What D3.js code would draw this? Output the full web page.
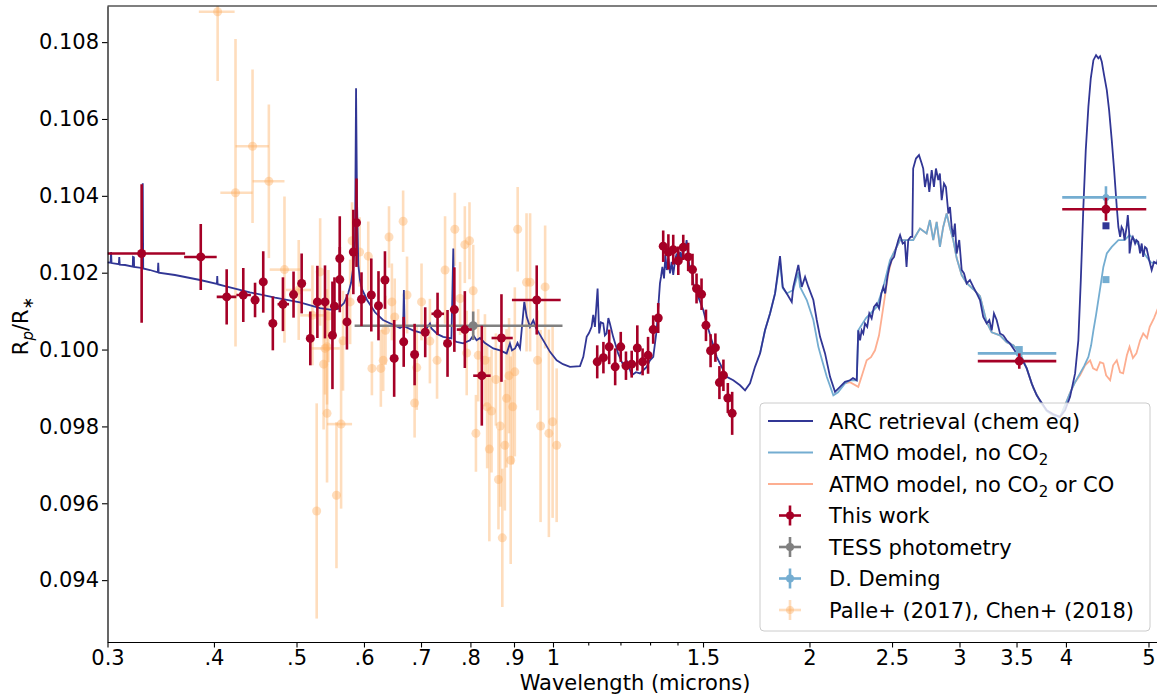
<!DOCTYPE html>
<html>
<head>
<meta charset="utf-8">
<script src="https://cdn.jsdelivr.net/npm/d3@7"></script>
<style>
body { margin: 0; background: #fff; }
text { font-family: "DejaVu Sans", sans-serif; }
</style>
</head>
<body>
<script>
// Transmission spectrum, Rp/R* against wavelength (microns), log x axis

// model spectra as [wavelength, Rp/R*]
var arcRetrieval = [
  [0.300,0.10227],[0.3025,0.10226],[0.3029,0.10254],[0.3033,0.10225],
  [0.3093,0.10222],[0.3097,0.10241],[0.3101,0.10221],
  [0.3146,0.10220],[0.3212,0.10216],[0.3214,0.10241],[0.3222,0.10240],[0.3224,0.10215],
  [0.3296,0.10212],[0.3300,0.10433],[0.3304,0.10211],
  [0.3365,0.10207],[0.3437,0.10201],[0.3441,0.10226],[0.3445,0.10200],
  [0.3600,0.10194],[0.3853,0.10181],[0.4032,0.10171],[0.4036,0.10191],[0.4040,0.10170],
  [0.4121,0.10165],[0.4408,0.10149],[0.4718,0.10135],[0.5046,0.10123],[0.5328,0.10108],
  [0.5474,0.10104],[0.5594,0.10106],[0.5685,0.10121],[0.5751,0.10147],[0.5794,0.10173],
  [0.5830,0.10215],[0.5857,0.10285],[0.5873,0.10680],[0.5888,0.10389],[0.5909,0.10220],
  [0.5936,0.10181],[0.5968,0.10157],[0.6050,0.10129],[0.6182,0.10097],[0.6317,0.10077],
  [0.6472,0.10066],[0.6613,0.10056],[0.6670,0.10061],[0.6683,0.10155],[0.6696,0.10060],
  [0.6850,0.10050],[0.7040,0.10042],[0.7171,0.10068],[0.7201,0.10055],[0.7320,0.10040],
  [0.7432,0.10033],[0.7600,0.10029],[0.7638,0.10263],[0.7665,0.10022],[0.7707,0.10020],
  [0.7845,0.10016],[0.7991,0.10024],[0.8064,0.10037],[0.8134,0.10024],[0.8210,0.10030],
  [0.8321,0.10017],[0.8509,0.10003],[0.8666,0.09998],[0.8823,0.09990],[0.8902,0.10016],
  [0.8951,0.09998],[0.9026,0.10003],[0.9086,0.10017],[0.9147,0.10003],[0.9254,0.10124],
  [0.9314,0.10085],[0.9397,0.10059],[0.9482,0.10076],[0.9551,0.10056],[0.9611,0.10046],
  [0.9741,0.10024],[0.9919,0.09994],[1.0100,0.09972],[1.0274,0.09962],[1.0470,0.09955],
  [1.0757,0.09957],[1.0854,0.09981],[1.0953,0.10033],[1.1022,0.10043],[1.1101,0.10059],
  [1.1149,0.10090],[1.1200,0.10059],[1.1281,0.10159],[1.1330,0.10042],[1.1381,0.10071],
  [1.1455,0.10068],[1.1506,0.10037],[1.1560,0.10042],[1.1614,0.10082],[1.1662,0.10068],
  [1.1766,0.10033],[1.1926,0.09990],[1.2047,0.09967],[1.2145,0.09951],[1.2229,0.09967],
  [1.2372,0.09933],[1.2514,0.09941],[1.2651,0.09938],[1.2882,0.09955],[1.2996,0.09972],
  [1.3113,0.09981],[1.3233,0.10050],[1.3352,0.10172],[1.339,0.10189],[1.344,0.10215],
  [1.350,0.10185],[1.355,0.10246],[1.360,0.10207],[1.366,0.10237],[1.372,0.10198],
  [1.378,0.10228],[1.384,0.10194],[1.391,0.10233],[1.397,0.10250],[1.403,0.10215],
  [1.410,0.10254],[1.416,0.10233],[1.422,0.10276],[1.429,0.10259],[1.435,0.10285],
  [1.441,0.10241],[1.448,0.10207],[1.455,0.10220],[1.461,0.10172],
  [1.4808,0.10137],[1.5010,0.10103],
  [1.5149,0.10068],[1.5356,0.10024],[1.5564,0.09981],[1.5776,0.09955],[1.5992,0.09929],
  [1.6279,0.09920],[1.6578,0.09907],[1.6805,0.09894],[1.7032,0.09912],[1.7264,0.09955],
  [1.7500,0.09990],[1.7736,0.10050],[1.7978,0.10094],[1.8224,0.10146],[1.8470,0.10243],
  [1.8606,0.10163],[1.8809,0.10146],[1.9066,0.10124],[1.9146,0.10163],[1.9408,0.10220],
  [1.9587,0.10163],[1.9764,0.10189],[1.9942,0.10163],[2.0211,0.10129],[2.0398,0.10077],
  [2.0582,0.10033],[2.0860,0.09990],[2.1145,0.09929],[2.1429,0.09890],[2.1723,0.09903],
  [2.2014,0.09916],[2.2316,0.09920],[2.2497,0.09926],[2.2726,0.09920],[2.2820,0.10050],
  [2.2930,0.10024],[2.3030,0.10050],[2.3130,0.10042],[2.3240,0.10068],[2.3380,0.10059],
  [2.3510,0.10094],[2.3660,0.10081],[2.3810,0.10111],[2.3990,0.10120],[2.4140,0.10107],
  [2.4290,0.10146],[2.4420,0.10163],[2.4540,0.10146],[2.4690,0.10189],[2.4820,0.10215],
  [2.4980,0.10233],[2.5140,0.10241],[2.5270,0.10263],[2.5430,0.10285],[2.5550,0.10298],
  [2.5730,0.10276],[2.5880,0.10280],[2.6000,0.10215],[2.6120,0.10285],[2.6290,0.10293],
  [2.6410,0.10293],[2.6470,0.10471],[2.6670,0.10497],[2.6890,0.10506],[2.7090,0.10484],
  [2.7200,0.10471],[2.7330,0.10423],[2.7500,0.10458],[2.7650,0.10410],[2.7830,0.10467],
  [2.8000,0.10423],[2.8150,0.10471],[2.8330,0.10441],[2.8450,0.10458],[2.8590,0.10389],
  [2.8770,0.10432],[2.8920,0.10423],[2.9110,0.10354],[2.9240,0.10371],[2.9370,0.10319],
  [2.9500,0.10293],[2.9630,0.10328],[2.9770,0.10250],[2.9980,0.10285],[3.0180,0.10207],
  [3.0370,0.10198],[3.0590,0.10172],[3.0860,0.10181],[3.1140,0.10163],[3.1430,0.10146],
  [3.1710,0.10129],[3.1990,0.10085],[3.2290,0.10068],[3.2520,0.10077],[3.2730,0.10050],
  [3.2930,0.10094],[3.3170,0.10077],[3.3470,0.10042],[3.3770,0.10037],[3.4080,0.10024],
  [3.4380,0.10016],[3.4700,0.10003],[3.5020,0.09990],[3.5330,0.09981],[3.5650,0.09968],
  [3.5980,0.09951],[3.6460,0.09912],[3.6960,0.09881],[3.7292,0.09868],[3.7977,0.09842],
  [3.8632,0.09832],[3.9368,0.09825],[3.9900,0.09842],[4.0449,0.09877],[4.1002,0.09938],
  [4.1364,0.10024],[4.1641,0.10181],[4.1930,0.10371],[4.2201,0.10519],[4.2503,0.10632],
  [4.2778,0.10706],[4.3084,0.10753],[4.3393,0.10766],[4.3664,0.10758],[4.3865,0.10763],
  [4.4068,0.10749],[4.4344,0.10714],[4.4671,0.10675],[4.4950,0.10623],[4.5273,0.10545],
  [4.5565,0.10467],[4.5890,0.10371],[4.6090,0.10319],[4.6310,0.10293],[4.6490,0.10319],
  [4.6690,0.10311],[4.6870,0.10285],[4.7130,0.10319],[4.7280,0.10350],[4.7460,0.10302],
  [4.7500,0.10250],[4.7760,0.10285],[4.7930,0.10293],[4.8220,0.10276],[4.8390,0.10285],
  [4.8640,0.10280],[4.8880,0.10250],[4.9090,0.10276],[4.9290,0.10241],[4.9530,0.10267],
  [4.9750,0.10263],[5.0090,0.10233],[5.0430,0.10207],[5.0750,0.10228],[5.1130,0.10224],
  [5.1300,0.10238]
];

var atmoNoCO2 = [
  [1.7500,0.09990],[1.7736,0.10050],[1.7978,0.10094],[1.8224,0.10146],[1.8470,0.10228],
  [1.8606,0.10160],[1.8809,0.10146],[1.9146,0.10155],[1.9408,0.10201],[1.9498,0.10163],
  [1.9855,0.10129],[2.0211,0.10077],[2.0487,0.10007],[2.0693,0.09972],[2.0958,0.09929],
  [2.1333,0.09881],[2.1605,0.09889],[2.2014,0.09912],[2.2316,0.09920],[2.2726,0.09920],
  [2.2820,0.10050],[2.3303,0.10082],[2.3986,0.10111],[2.4420,0.10163],[2.4865,0.10233],
  [2.5320,0.10267],[2.5549,0.10285],[2.6003,0.10285],[2.6474,0.10285],[2.6960,0.10315],
  [2.7449,0.10302],[2.7697,0.10337],[2.7947,0.10285],[2.8206,0.10332],[2.8454,0.10267],
  [2.8710,0.10319],[2.8977,0.10354],[2.9238,0.10316],[2.9498,0.10285],[2.9771,0.10238],
  [3.0178,0.10194],[3.0590,0.10173],[3.1140,0.10157],[3.1712,0.10139],[3.2285,0.10071],
  [3.2727,0.10045],[3.3467,0.10037],[3.4082,0.10019],[3.4700,0.10011],[3.5330,0.09991],
  [3.5975,0.09951],[3.6621,0.09900],[3.7292,0.09866],[3.7977,0.09840],[3.8632,0.09829],
  [3.9368,0.09824],[3.9900,0.09855],[4.0449,0.09887],[4.1002,0.09915],[4.1556,0.09938],
  [4.2009,0.09957],[4.2503,0.09981],[4.2817,0.10011],[4.3084,0.10050],[4.3393,0.10090],
  [4.3664,0.10129],[4.3982,0.10175],[4.4257,0.10215],[4.4671,0.10250],[4.5273,0.10267],
  [4.6092,0.10285],[4.6871,0.10285],[4.7502,0.10298],[4.8222,0.10285],[4.8881,0.10267],
  [4.9753,0.10241],[5.0304,0.10227],[5.1300,0.10224]
];

var atmoNoCO2CO = [
  [2.2014,0.09912],[2.2316,0.09915],[2.2820,0.09903],[2.3052,0.09933],[2.3345,0.09972],
  [2.3619,0.09980],[2.3876,0.09998],[2.4137,0.10037],[2.4420,0.10111],[2.4752,0.10198],
  [2.5086,0.10250],[2.5549,0.10285],[2.6003,0.10285],[2.6474,0.10285],[2.6960,0.10315],
  [2.7449,0.10302],[2.7697,0.10337],[2.7947,0.10285],[2.8206,0.10332],[2.8454,0.10267],
  [2.8710,0.10319],[2.8977,0.10354],[2.9238,0.10316],[2.9498,0.10285],[2.9771,0.10238],
  [3.0178,0.10194],[3.0590,0.10173],[3.1140,0.10157],[3.1712,0.10139],[3.2285,0.10071],
  [3.2727,0.10045],[3.3467,0.10037],[3.4082,0.10019],[3.4700,0.10011],[3.5330,0.09991],
  [3.5975,0.09951],[3.6621,0.09900],[3.7292,0.09866],[3.7977,0.09840],[3.8632,0.09829],
  [3.9368,0.09824],[3.9900,0.09855],[4.0449,0.09887],[4.1002,0.09915],[4.1556,0.09933],
  [4.2124,0.09959],[4.2700,0.09972],[4.3045,0.09951],[4.3474,0.09946],[4.3865,0.09967],
  [4.4257,0.09964],[4.4589,0.09933],[4.5075,0.09920],[4.5440,0.09959],[4.5891,0.09972],
  [4.6305,0.09941],[4.6689,0.09938],[4.7160,0.09985],[4.7502,0.10007],[4.7942,0.09978],
  [4.8390,0.09990],[4.8881,0.10024],[4.9295,0.10042],[4.9800,0.10030],[5.0164,0.10059],
  [5.0750,0.10082],[5.1300,0.10108]
];

// measurements as [wavelength, Rp/R*, error, bin start, bin end]
var thisWork = [
  [0.329,0.10250,0.00180,0.300,0.370],[0.386,0.10241,0.00086,0.369,0.403],
  [0.414,0.10137,0.00072,0.403,0.425],[0.433,0.10142,0.00070,0.425,0.442],
  [0.447,0.10129,0.00045,0.442,0.452],[0.457,0.10176,0.00080],[0.469,0.10068,0.00070],
  [0.482,0.10118,0.00070,0.475,0.490],[0.496,0.10143,0.00060],[0.507,0.10172,0.00078],
  [0.519,0.10029,0.00070],[0.529,0.10124,0.00094],[0.540,0.10124,0.00095],
  [0.551,0.10037,0.00140],[0.554,0.10113,0.00075],[0.562,0.10237,0.00110],
  [0.562,0.10182,0.00085],[0.573,0.10072,0.00072],[0.583,0.10254,0.00110],
  [0.588,0.10330,0.00115],[0.596,0.10131,0.00070],[0.612,0.10142,0.00095],
  [0.624,0.10114,0.00090],[0.635,0.10181,0.00075],[0.651,0.09977,0.00100],
  [0.668,0.10020,0.00065],[0.688,0.09987,0.00080],[0.708,0.10045,0.00065,0.702,0.714],
  [0.732,0.10093,0.00055,0.720,0.745],[0.752,0.10016,0.00087],[0.766,0.10104,0.00110],
  [0.788,0.10052,0.00100,0.771,0.803],[0.825,0.09932,0.00130,0.806,0.845],
  [0.870,0.10030,0.00114,0.847,0.897],[0.957,0.10129,0.00090,0.895,1.021],
  [1.127,0.09968,0.00043],[1.146,0.09979,0.00041],[1.164,0.10007,0.00045],
  [1.183,0.09955,0.00048],[1.201,0.10007,0.00039],[1.218,0.09958,0.00037],
  [1.237,0.09962,0.00035],[1.256,0.10004,0.00059],[1.274,0.09968,0.00035],
  [1.293,0.09985,0.00048],[1.311,0.10052,0.00037],[1.329,0.10082,0.00039],
  [1.347,0.10269,0.00041],[1.366,0.10254,0.00046],[1.384,0.10260,0.00039],
  [1.403,0.10231,0.00037],[1.422,0.10266,0.00033],[1.441,0.10241,0.00037],
  [1.458,0.10208,0.00041],[1.474,0.10159,0.00039],[1.494,0.10144,0.00041],
  [1.512,0.10063,0.00041],[1.531,0.09997,0.00043],[1.551,0.10005,0.00037],
  [1.568,0.09914,0.00043],[1.585,0.09933,0.00041],[1.604,0.09874,0.00039],
  [1.623,0.09834,0.00056],
  [3.526,0.09970,0.00020,3.152,3.897],[4.457,0.10365,0.00030,3.960,4.970]
];

var tessPhot = [[0.806,0.10062,0.00037,0.585,1.026]];

var demingSpitzer = [[3.526,0.09990,0.00006,3.152,3.897],[4.457,0.10396,0.00029,3.960,4.970]];

var palleChen = [
  [0.404,0.10879,0.0018,0.384,0.423],[0.424,0.10408,0.0040,0.407,0.444],
  [0.444,0.10529,0.0020,0.424,0.464],[0.464,0.10438,0.0020,0.444,0.484],
  [0.484,0.10208,0.0019,0.465,0.505],[0.503,0.10155,0.0013,0.486,0.520],
  [0.522,0.10089,0.0013,0.505,0.540],[0.540,0.10003,0.0012,0.521,0.562],
  [0.528,0.09580,0.0028],[0.533,0.10202,0.0014],[0.538,0.09962,0.0017],
  [0.543,0.10007,0.0015],[0.543,0.09834,0.0018],[0.545,0.10087,0.0012],
  [0.557,0.09621,0.0019],[0.564,0.09806,0.0022,0.543,0.581],[0.567,0.10023,0.0013],
  [0.578,0.10124,0.0011],[0.581,0.10283,0.0010],[0.593,0.10254,0.0009],
  [0.607,0.10243,0.0009],[0.613,0.09951,0.0007],[0.628,0.09951,0.0010],
  [0.632,0.09972,0.0008],[0.636,0.10050,0.0009],[0.642,0.10293,0.0008],
  [0.647,0.10124,0.0010],[0.652,0.10085,0.0010],[0.667,0.10334,0.0008],
  [0.674,0.10142,0.0010],[0.688,0.09861,0.0009],[0.692,0.09953,0.0011],
  [0.701,0.10124,0.0010],[0.717,0.10022,0.0011],[0.731,0.09972,0.0010],
  [0.747,0.10207,0.0014],[0.767,0.10313,0.00095],[0.778,0.10133,0.00095],
  [0.788,0.10273,0.0010],[0.792,0.09991,0.0011],[0.798,0.10283,0.0010],
  [0.806,0.10153,0.0012],[0.812,0.09782,0.0010],[0.817,0.09985,0.0012],
  [0.832,0.09972,0.0012],[0.837,0.09851,0.0016],[0.842,0.09741,0.0024],
  [0.847,0.09840,0.0016],[0.857,0.09922,0.0012],[0.863,0.09662,0.0013],
  [0.867,0.09801,0.0021],[0.872,0.09510,0.0018],[0.878,0.09751,0.0017],
  [0.882,0.09873,0.0018],[0.888,0.09932,0.0015],[0.892,0.09712,0.0027],
  [0.897,0.09851,0.0015],[0.902,0.09942,0.0022],[0.909,0.10313,0.0011],
  [0.931,0.10175,0.0018],[0.940,0.10175,0.0018],[0.959,0.09972,0.0013],
  [0.967,0.09801,0.0025],[0.979,0.10163,0.0016],[0.989,0.09782,0.0027],
  [0.999,0.09812,0.0025],[1.010,0.09751,0.0020]
];

// band averaged models at the Spitzer points
var arcBand = [[4.457,0.10322]];
var atmoBand = [[3.526,0.10000],[4.457,0.10182]];

var xTicks = [0.3,0.4,0.5,0.6,0.7,0.8,0.9,1,1.5,2,2.5,3,3.5,4,5];
var xTickLabels = ["0.3",".4",".5",".6",".7",".8",".9","1","1.5","2","2.5","3","3.5","4","5"];
var xMinorTicks = [1.1,1.2,1.3,1.4];
var yTicks = [0.094,0.096,0.098,0.100,0.102,0.104,0.106,0.108];

var width = 1157;
var height = 695;
var plotLeft = 107.5, plotRight = 1158, plotTop = 6, plotBottom = 642;

var x = d3.scaleLog()
          .domain([0.3, 5.13])
          .range([plotLeft, plotRight]);

var y = d3.scaleLinear()
          .domain([0.09239, 0.10894])
          .range([plotBottom, plotTop]);

var svg = d3.select("body")
            .append("svg")
            .attr("width", width)
            .attr("height", height);

svg.append("clipPath")
   .attr("id", "plotclip")
   .append("rect")
   .attr("x", plotLeft).attr("y", plotTop)
   .attr("width", plotRight - plotLeft).attr("height", plotBottom - plotTop);

var plot = svg.append("g").attr("clip-path", "url(#plotclip)");

// errorbar points: vertical bar, optional bin bar, then the marker
function errorbars(rows, color, alpha, lw, r) {
  var g = plot.append("g");
  g.selectAll(".ybar")
    .data(rows)
    .enter().append("line")
      .attr("x1", function(d) { return x(d[0]); })
      .attr("x2", function(d) { return x(d[0]); })
      .attr("y1", function(d) { return y(d[1] - d[2]); })
      .attr("y2", function(d) { return y(d[1] + d[2]); })
      .attr("stroke", color).attr("stroke-opacity", alpha).attr("stroke-width", lw);
  g.selectAll(".xbar")
    .data(rows.filter(function(d) { return d.length > 3; }))
    .enter().append("line")
      .attr("x1", function(d) { return x(d[3]); })
      .attr("x2", function(d) { return x(d[4]); })
      .attr("y1", function(d) { return y(d[1]); })
      .attr("y2", function(d) { return y(d[1]); })
      .attr("stroke", color).attr("stroke-opacity", alpha).attr("stroke-width", lw);
  g.selectAll("circle")
    .data(rows)
    .enter().append("circle")
      .attr("cx", function(d) { return x(d[0]); })
      .attr("cy", function(d) { return y(d[1]); })
      .attr("r", r)
      .attr("fill", color).attr("fill-opacity", alpha);
}

var line = d3.line()
             .x(function(d) { return x(d[0]); })
             .y(function(d) { return y(d[1]); });

errorbars(palleChen, "#fdae61", 0.42, 2.6, 4.5);

plot.append("path").datum(atmoNoCO2CO)
    .attr("d", line).attr("fill", "none")
    .attr("stroke", "#fdae91").attr("stroke-width", 1.8);
plot.append("path").datum(atmoNoCO2)
    .attr("d", line).attr("fill", "none")
    .attr("stroke", "#74add1").attr("stroke-width", 1.8);
plot.append("path").datum(arcRetrieval)
    .attr("d", line).attr("fill", "none")
    .attr("stroke", "#313695").attr("stroke-width", 1.8);

errorbars(tessPhot, "#808080", 1, 2.6, 4.5);
errorbars(demingSpitzer, "#74add1", 1, 2.6, 3.5);

plot.selectAll(".arcsq").data(arcBand).enter().append("rect")
    .attr("x", function(d) { return x(d[0]) - 3.5; })
    .attr("y", function(d) { return y(d[1]) - 3.5; })
    .attr("width", 7).attr("height", 7).attr("fill", "#313695");
plot.selectAll(".atmosq").data(atmoBand).enter().append("rect")
    .attr("x", function(d) { return x(d[0]) - 3.5; })
    .attr("y", function(d) { return y(d[1]) - 3.5; })
    .attr("width", 7).attr("height", 7).attr("fill", "#74add1");

errorbars(thisWork, "#a50026", 1, 2.6, 4.5);

// axes
var yAxis = d3.axisLeft(y)
              .tickValues(yTicks)
              .tickFormat(d3.format(".3f"))
              .tickSize(5.5)
              .tickSizeOuter(0);

var xAxis = d3.axisBottom(x)
              .tickValues(xTicks)
              .tickFormat(function(d, i) { return xTickLabels[i]; })
              .tickSize(5.5)
              .tickSizeOuter(0);

var xMinor = d3.axisBottom(x)
               .tickValues(xMinorTicks)
               .tickFormat("")
               .tickSize(3.5)
               .tickSizeOuter(0);

svg.append("g")
   .attr("transform", "translate(" + plotLeft + ",0)")
   .call(yAxis)
   .attr("font-family", "DejaVu Sans").attr("font-size", 21);

svg.append("g")
   .attr("transform", "translate(0," + plotBottom + ")")
   .call(xAxis)
   .attr("font-family", "DejaVu Sans").attr("font-size", 21);

svg.append("g")
   .attr("transform", "translate(0," + plotBottom + ")")
   .call(xMinor);

svg.selectAll(".domain").attr("stroke-width", 1.2);
svg.selectAll(".tick line").attr("stroke-width", 1.1);

// top spine
svg.append("line")
   .attr("x1", plotLeft).attr("x2", plotRight)
   .attr("y1", plotTop).attr("y2", plotTop)
   .attr("stroke", "#000").attr("stroke-width", 1.2);

svg.append("text")
   .attr("x", 635)
   .attr("y", 690)
   .attr("text-anchor", "middle")
   .attr("font-size", 21)
   .text("Wavelength (microns)");

var ylab = svg.append("text")
   .attr("transform", "translate(28,326) rotate(-90)")
   .attr("text-anchor", "middle")
   .attr("font-size", 21);
ylab.append("tspan").text("R");
ylab.append("tspan").attr("font-size", 15).attr("font-style", "italic").attr("dy", 5).text("p");
ylab.append("tspan").attr("dy", -5).text("/R");
ylab.append("tspan").attr("font-size", 15).attr("dy", 5).text("\u2217");

// legend
var legend = svg.append("g");
legend.append("rect")
      .attr("x", 760).attr("y", 403)
      .attr("width", 390).attr("height", 228)
      .attr("rx", 4)
      .attr("fill", "#fff").attr("fill-opacity", 0.8)
      .attr("stroke", "#cccccc").attr("stroke-width", 1);

var legendLines = [
  {color: "#313695", label: ["ARC retrieval (chem eq)"]},
  {color: "#74add1", label: ["ATMO model, no CO", "2", ""]},
  {color: "#fdae91", label: ["ATMO model, no CO", "2", " or CO"]}
];
var legendPoints = [
  {color: "#a50026", alpha: 1, label: "This work"},
  {color: "#808080", alpha: 1, label: "TESS photometry"},
  {color: "#74add1", alpha: 1, label: "D. Deming"},
  {color: "#fdae61", alpha: 0.42, label: "Palle+ (2017), Chen+ (2018)"}
];
var rowY = [421, 452.5, 484, 515.5, 547, 578.5, 610];

legendLines.forEach(function(d, i) {
  legend.append("line")
        .attr("x1", 768).attr("x2", 813)
        .attr("y1", rowY[i]).attr("y2", rowY[i])
        .attr("stroke", d.color).attr("stroke-width", 1.8);
  var t = legend.append("text")
        .attr("x", 829).attr("y", rowY[i]).attr("dy", "0.36em")
        .attr("font-size", 21);
  t.append("tspan").text(d.label[0]);
  if (d.label.length > 1) {
    t.append("tspan").attr("font-size", 15).attr("dy", 5).text(d.label[1]);
    t.append("tspan").attr("dy", -5).text(d.label[2]);
  }
});

legendPoints.forEach(function(d, j) {
  var cy = rowY[j + 3];
  legend.append("line")
        .attr("x1", 790).attr("x2", 790)
        .attr("y1", cy - 10).attr("y2", cy + 10)
        .attr("stroke", d.color).attr("stroke-opacity", d.alpha).attr("stroke-width", 2.6);
  legend.append("line")
        .attr("x1", 779).attr("x2", 801)
        .attr("y1", cy).attr("y2", cy)
        .attr("stroke", d.color).attr("stroke-opacity", d.alpha).attr("stroke-width", 2.6);
  legend.append("circle")
        .attr("cx", 790).attr("cy", cy).attr("r", 4)
        .attr("fill", d.color).attr("fill-opacity", d.alpha);
  legend.append("text")
        .attr("x", 829).attr("y", cy).attr("dy", "0.36em")
        .attr("font-size", 21)
        .text(d.label);
});
</script>
</body>
</html>
